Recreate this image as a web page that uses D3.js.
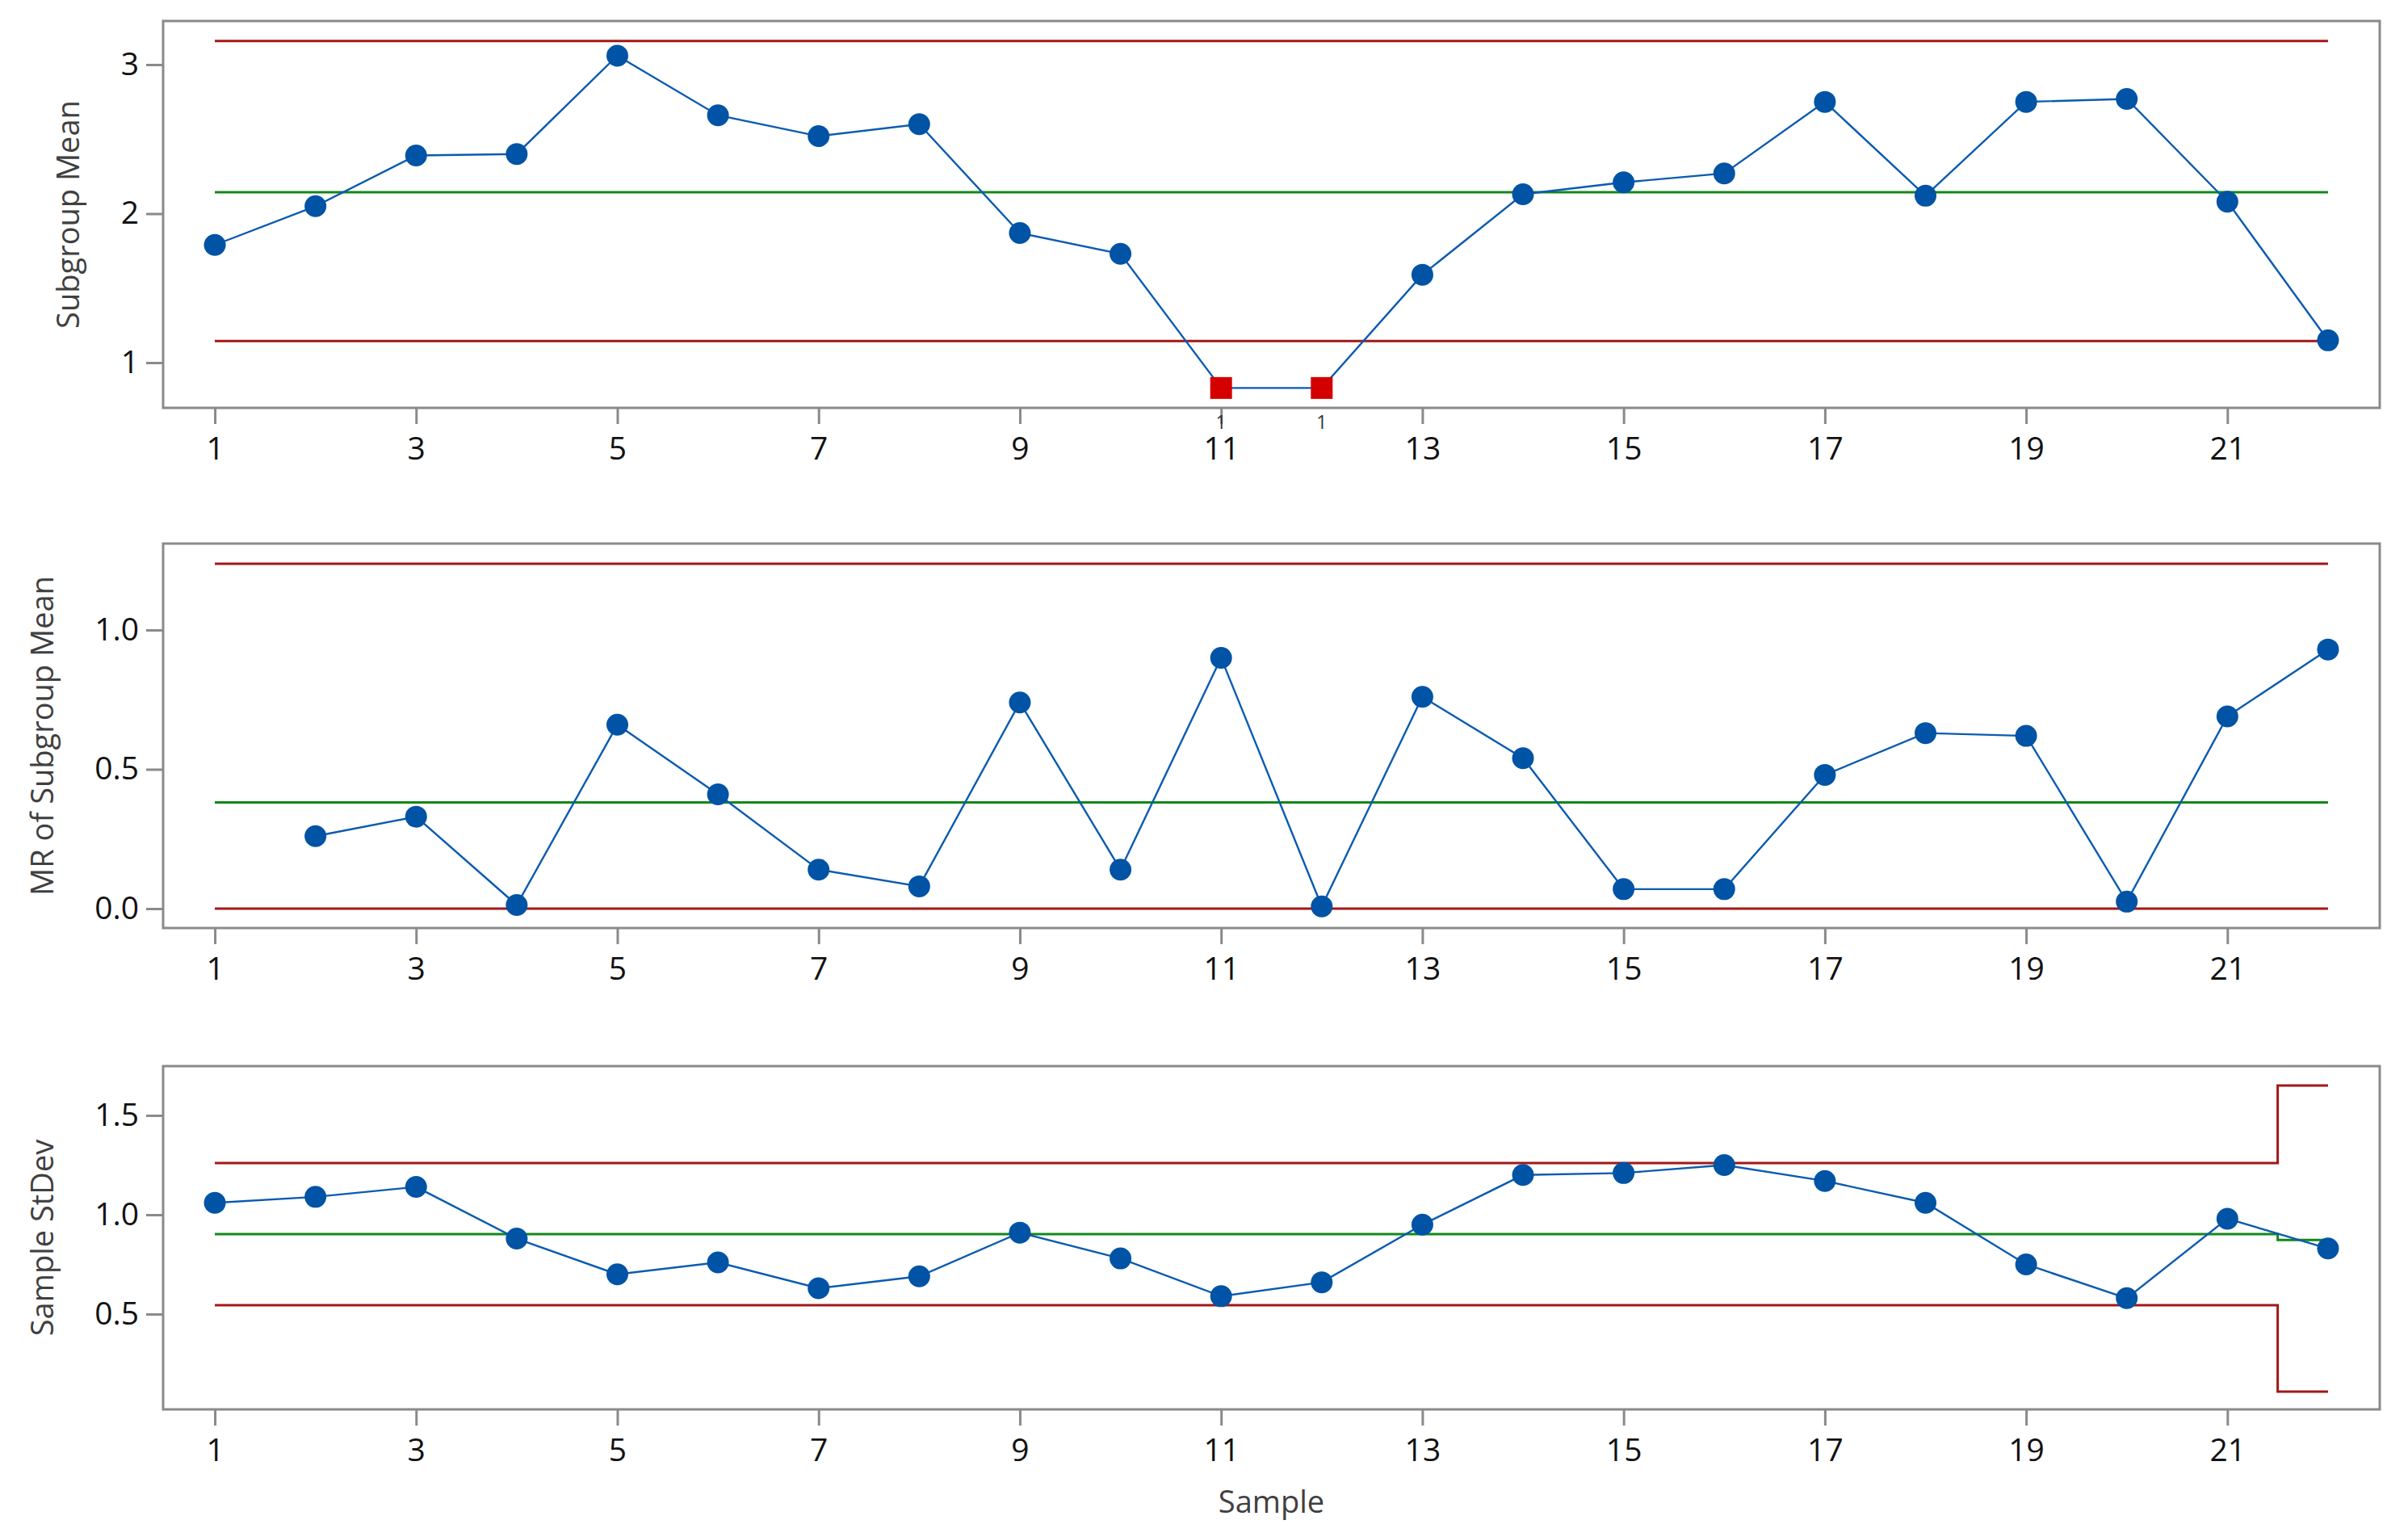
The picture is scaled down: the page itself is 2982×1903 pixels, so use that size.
<!DOCTYPE html>
<html><head><meta charset="utf-8">
<script src="https://cdn.jsdelivr.net/npm/d3@7"></script>
<style>
body{margin:0;background:#fff}
svg{display:block}
text{font-family:"Open Sans","Noto Sans",sans-serif}
</style>
</head><body>
<svg id="c" width="2982" height="1903"></svg>
<script>
// ---------- data ----------
const samples = [1,2,3,4,5,6,7,8,9,10,11,12,13,14,15,16,17,18,19,20,21,22];
const xTickValues = [1,3,5,7,9,11,13,15,17,19,21];

const subgroupMean = [1.79,2.05,2.39,2.40,3.06,2.66,2.52,2.60,1.87,1.73,0.83,0.83,1.59,2.13,2.21,2.27,2.75,2.12,2.75,2.77,2.08,1.15];
const meanUCL = 3.158, meanCL = 2.144, meanLCL = 1.145;
const failedSamples = [11, 12];          // flagged by test 1
const meanTicks = [1, 2, 3];

const movingRange = [null,0.26,0.33,0.013,0.66,0.41,0.14,0.08,0.74,0.14,0.90,0.008,0.76,0.54,0.07,0.07,0.48,0.63,0.62,0.025,0.69,0.93];
const mrUCL = 1.238, mrCL = 0.381, mrLCL = 0;
const mrTicks = [0, 0.5, 1.0];

const sampleStDev = [1.06,1.09,1.14,0.88,0.70,0.76,0.63,0.69,0.91,0.78,0.59,0.66,0.95,1.20,1.21,1.25,1.17,1.06,0.75,0.58,0.98,0.83];
const sUCL = [1.26,1.26,1.26,1.26,1.26,1.26,1.26,1.26,1.26,1.26,1.26,1.26,1.26,1.26,1.26,1.26,1.26,1.26,1.26,1.26,1.26,1.65];
const sCL  = [0.902,0.902,0.902,0.902,0.902,0.902,0.902,0.902,0.902,0.902,0.902,0.902,0.902,0.902,0.902,0.902,0.902,0.902,0.902,0.902,0.902,0.873];
const sLCL = [0.545,0.545,0.545,0.545,0.545,0.545,0.545,0.545,0.545,0.545,0.545,0.545,0.545,0.545,0.545,0.545,0.545,0.545,0.545,0.545,0.545,0.11];
const sTicks = [0.5, 1.0, 1.5];

// ---------- styling ----------
const C = {frame:"#8a8a8a", limit:"#a01818", center:"#13871a", line:"#0a5bb0", point:"#0053a5", fail:"#d40000", tick:"#111", title:"#404040"};
const svg = d3.select("#c");
const left = 202, right = 2947;
const x = d3.scaleLinear().domain([0.486, 22.514]).range([left, right]);

const panels = [
  {top:26, bottom:505, domain:[0.6965,3.2927], values:subgroupMean, ucl:samples.map(()=>meanUCL), cl:samples.map(()=>meanCL), lcl:samples.map(()=>meanLCL), ticks:meanTicks, fmt:d3.format("d"), title:"Subgroup Mean", titleX:83, fails:failedSamples},
  {top:673, bottom:1149, domain:[-0.0696,1.3101], values:movingRange, ucl:samples.map(()=>mrUCL), cl:samples.map(()=>mrCL), lcl:samples.map(()=>mrLCL), ticks:mrTicks, fmt:d3.format(".1f"), title:"MR of Subgroup Mean", titleX:51, fails:[]},
  {top:1320, bottom:1745, domain:[0.0203,1.748], values:sampleStDev, ucl:sUCL, cl:sCL, lcl:sLCL, ticks:sTicks, fmt:d3.format(".1f"), title:"Sample StDev", titleX:51, fails:[]}
];

panels.forEach(p => {
  const y = d3.scaleLinear().domain(p.domain).range([p.bottom, p.top]);
  const g = svg.append("g");

  // limit lines (step at midpoint between samples)
  const lim = d3.line().curve(d3.curveStep).x((d,i)=>x(samples[i])).y(d=>y(d));
  g.append("path").attr("d", lim(p.ucl)).attr("fill","none").attr("stroke",C.limit).attr("stroke-width",3);
  g.append("path").attr("d", lim(p.lcl)).attr("fill","none").attr("stroke",C.limit).attr("stroke-width",3);
  g.append("path").attr("d", lim(p.cl)).attr("fill","none").attr("stroke",C.center).attr("stroke-width",3);

  // data line
  const pts = samples.map((s,i)=>({s, v:p.values[i]}));
  const line = d3.line().defined(d=>d.v!=null).x(d=>x(d.s)).y(d=>y(d.v));
  g.append("path").attr("d", line(pts)).attr("fill","none").attr("stroke",C.line).attr("stroke-width",2.4);

  const ok = pts.filter(d=>d.v!=null && !p.fails.includes(d.s));
  g.selectAll("circle.pt").data(ok).join("circle").attr("class","pt")
    .attr("cx",d=>x(d.s)).attr("cy",d=>y(d.v)).attr("r",13.5).attr("fill",C.point);
  const bad = pts.filter(d=>p.fails.includes(d.s));
  g.selectAll("rect.fail").data(bad).join("rect").attr("class","fail")
    .attr("x",d=>x(d.s)-13.5).attr("y",d=>y(d.v)-13.5).attr("width",27).attr("height",27).attr("fill",C.fail);

  // frame
  g.append("rect").attr("x",left).attr("y",p.top).attr("width",right-left).attr("height",p.bottom-p.top)
    .attr("fill","none").attr("stroke",C.frame).attr("stroke-width",3);

  // axes
  const ax = g.append("g").attr("transform",`translate(0,${p.bottom})`)
    .call(d3.axisBottom(x).tickValues(xTickValues).tickSize(20).tickPadding(16).tickFormat(d3.format("d")));
  ax.select(".domain").remove();
  ax.selectAll(".tick line").attr("stroke",C.frame).attr("stroke-width",3);
  ax.selectAll(".tick text").attr("font-size",39).attr("fill",C.tick).attr("font-family","'Open Sans',sans-serif");

  const ay = g.append("g").attr("transform",`translate(${left},0)`)
    .call(d3.axisLeft(y).tickValues(p.ticks).tickSize(21).tickPadding(9).tickFormat(p.fmt));
  ay.select(".domain").remove();
  ay.selectAll(".tick line").attr("stroke",C.frame).attr("stroke-width",3);
  ay.selectAll(".tick text").attr("font-size",39).attr("fill",C.tick).attr("font-family","'Open Sans',sans-serif");

  // test failure labels
  g.selectAll("text.fl").data(bad).join("text").attr("class","fl")
    .attr("x",d=>x(d.s)).attr("y",p.bottom+26).attr("text-anchor","middle")
    .attr("font-size",23).attr("fill","#333").text("1");

  // y title
  g.append("text").attr("transform",`translate(${p.titleX},${(p.top+p.bottom)/2}) rotate(-90)`)
    .attr("text-anchor","middle").attr("dominant-baseline","central")
    .attr("font-size",38).attr("fill",C.title).text(p.title);
});

svg.append("text").attr("x",(left+right)/2).attr("y",1858).attr("text-anchor","middle")
  .attr("dominant-baseline","central").attr("font-size",38).attr("fill",C.title).text("Sample");
</script>
</body></html>
